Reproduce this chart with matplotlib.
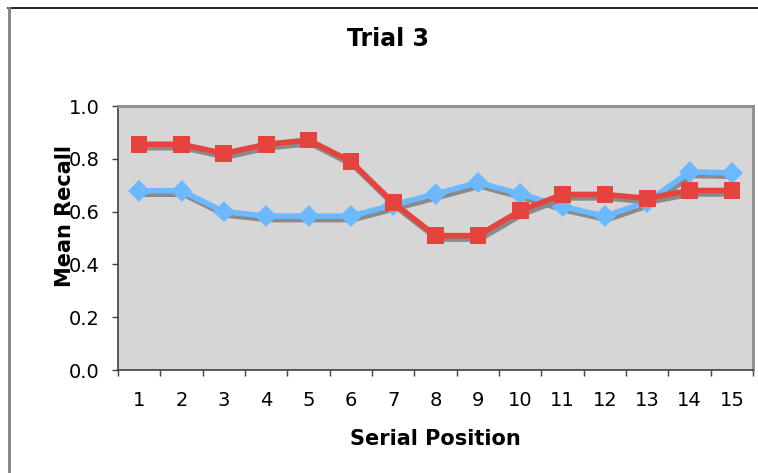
import matplotlib.pyplot as plt
import matplotlib.patheffects as pe
from matplotlib.lines import Line2D

positions = list(range(1, 16))
series_red = [0.855, 0.855, 0.82, 0.855, 0.871, 0.79, 0.634, 0.509, 0.509, 0.603, 0.665, 0.665, 0.65, 0.68, 0.68]
series_blue = [0.679, 0.679, 0.60, 0.583, 0.583, 0.583, 0.625, 0.667, 0.71, 0.667, 0.619, 0.583, 0.637, 0.75, 0.747]
yticks = [0.0, 0.2, 0.4, 0.6, 0.8, 1.0]

W, H = 758, 473
fig = plt.figure(figsize=(W / 100, H / 100), dpi=100)
fig.patch.set_facecolor("white")

# chart border (runs off the right/bottom edge like the original)
fig.add_artist(Line2D([8 / W, 1.0], [1 - 8.5 / H, 1 - 8.5 / H], color="black", lw=1.2))
fig.add_artist(Line2D([8.5 / W, 8.5 / W], [0.0, 1 - 8.5 / H], color="#808080", lw=2))

ax = fig.add_axes([118 / W, 1 - 370 / H, 635 / W, 264 / H])
ax.set_facecolor("#D6D6D6")

shadow = [pe.SimpleLineShadow(offset=(1.5, -2.5), shadow_color="#8a8a8a", alpha=1.0), pe.Normal()]

ax.plot(positions, series_blue, color="#6DB9FF", lw=4, marker="D", markersize=11,
        markeredgewidth=0, solid_joinstyle="miter", path_effects=shadow, zorder=3)
ax.plot(positions, series_red, color="#E5433E", lw=4, marker="s", markersize=12,
        markeredgewidth=0, solid_joinstyle="miter", path_effects=shadow, zorder=4)

ax.set_xlim(0.5, 15.5)
ax.set_ylim(0, 1.0)
ax.set_yticks(yticks)
ax.set_yticklabels([f"{v:.1f}" for v in yticks], fontsize=14)
ax.set_xticks(positions)
ax.set_xticklabels([str(p) for p in positions], fontsize=14)
ax.set_xticks([p + 0.5 for p in range(0, 16)], minor=True)
ax.tick_params(axis="x", which="major", length=0, pad=15)
ax.tick_params(axis="x", which="minor", length=4.5, width=1, color="#404040", direction="out")
ax.tick_params(axis="y", length=4.5, width=1, color="#404040", direction="out", pad=8.5)

for s in ("left", "bottom"):
    ax.spines[s].set_color("#404040")
    ax.spines[s].set_linewidth(1.2)
for s in ("top", "right"):
    ax.spines[s].set_color("#8c8c8c")
    ax.spines[s].set_linewidth(2)

fig.text(388 / W, 1 - 38.5 / H, "Trial 3", ha="center", va="center",
         fontsize=17, fontweight="bold")
fig.text(435 / W, 1 - 439 / H, "Serial Position", ha="center", va="center",
         fontsize=15, fontweight="bold")
# overlaps the tick labels, as in the original
fig.text(65 / W, 1 - 216 / H, "Mean Recall", ha="center", va="center",
         rotation=90, fontsize=15, fontweight="bold")

fig.savefig("out.png", dpi=100)
